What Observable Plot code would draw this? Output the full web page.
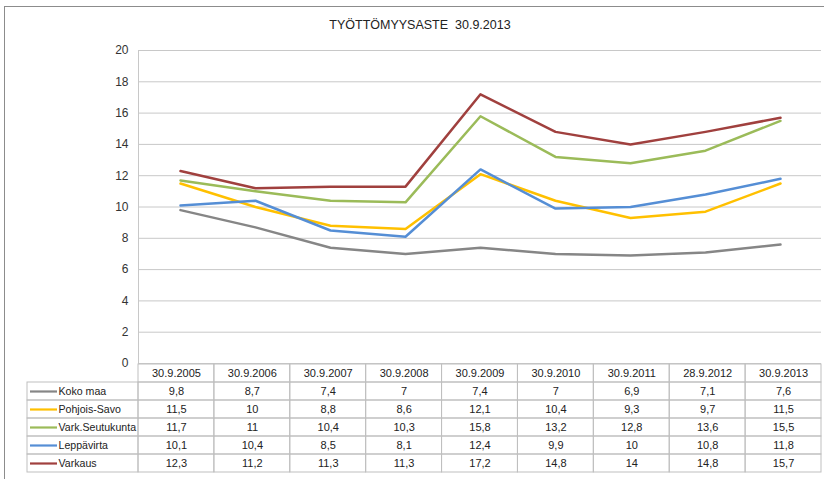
<!DOCTYPE html>
<html><head><meta charset="utf-8">
<script src="https://cdn.jsdelivr.net/npm/d3@7"></script>
<script src="https://cdn.jsdelivr.net/npm/@observablehq/plot@0.6"></script>
<style>
body{margin:0;background:#fff;}
#wrap{position:relative;width:824px;height:479px;overflow:hidden;font-family:"Liberation Sans",Arial,sans-serif;background:#fff;}
#frame{position:absolute;left:4px;top:6px;width:840px;height:500px;border:1px solid #8c8c8c;}
#title{position:absolute;left:0;width:840px;top:18px;text-align:center;font-size:12.5px;color:#222;white-space:pre;}
#chart{position:absolute;left:0;top:0;}
#table{position:absolute;left:0;top:363px;}
svg{overflow:visible;}
</style></head><body>
<div id="wrap"><div id="frame"></div><div id="title">TYÖTTÖMYYSASTE  30.9.2013</div><div id="chart"></div><div id="table"></div></div>
<script>
const dates = ["30.9.2005","30.9.2006","30.9.2007","30.9.2008","30.9.2009","30.9.2010","30.9.2011","28.9.2012","30.9.2013"];
const seriesNames = ["Koko maa","Pohjois-Savo","Vark.Seutukunta","Leppävirta","Varkaus"];
const kokoMaa = [9.8,8.7,7.4,7,7.4,7,6.9,7.1,7.6];
const pohjoisSavo = [11.5,10,8.8,8.6,12.1,10.4,9.3,9.7,11.5];
const varkSeutukunta = [11.7,11,10.4,10.3,15.8,13.2,12.8,13.6,15.5];
const leppavirta = [10.1,10.4,8.5,8.1,12.4,9.9,10,10.8,11.8];
const varkaus = [12.3,11.2,11.3,11.3,17.2,14.8,14,14.8,15.7];
const yTicks = [0,2,4,6,8,10,12,14,16,18,20];
const colors = ["#868686","#FFC000","#9BBB59","#558ED5","#A0403E"];

const seriesValues = [kokoMaa, pohjoisSavo, varkSeutukunta, leppavirta, varkaus];
const fmt = v => String(v).replace(".", ",");
const rows = [];
seriesNames.forEach((s, i) => seriesValues[i].forEach((v, j) => rows.push({series: s, date: dates[j], value: v})));

const W = 824, ML = 138, MR = 3;
const font = '"Liberation Sans", Arial, sans-serif';

const chart = Plot.plot({
  width: W, height: 380, marginTop: 50, marginBottom: 17, marginLeft: ML, marginRight: MR,
  style: {fontFamily: font, fontSize: "12px", color: "#333", background: "transparent", overflow: "visible"},
  x: {type: "point", domain: dates, padding: 0.5, axis: null},
  y: {domain: [0, 20], ticks: yTicks, tickSize: 0, tickPadding: 10, label: null, tickFormat: d => String(d)},
  color: {domain: seriesNames, range: colors},
  marks: [
    Plot.gridY(yTicks, {stroke: "#c8c8c8", strokeOpacity: 1}),
    Plot.frame({anchor: "left", stroke: "#c8c8c8"}),
    Plot.lineY(rows, {x: "date", y: "value", z: "series", stroke: "series", strokeWidth: 2.5})
  ]
});
document.getElementById("chart").append(chart);

// data table
const colW = (W - ML - MR) / dates.length;
const legendLeft = -111 / colW;
const cells = [];
dates.forEach((d, j) => cells.push({row: "header", x1: j, x2: j + 1, text: d}));
seriesNames.forEach((s, i) => {
  cells.push({row: s, x1: legendLeft, x2: 0, text: null});
  seriesValues[i].forEach((v, j) => cells.push({row: s, x1: j, x2: j + 1, text: fmt(v)}));
});
const table = Plot.plot({
  width: W, height: 116, marginTop: 0, marginBottom: 6, marginLeft: ML, marginRight: MR,
  style: {fontFamily: font, fontSize: "11px", color: "#222", background: "transparent", overflow: "visible"},
  x: {type: "linear", domain: [0, dates.length], axis: null},
  y: {type: "band", domain: ["header", ...seriesNames], padding: 0, axis: null},
  color: {domain: seriesNames, range: colors},
  marks: [
    Plot.barX(cells, {x1: "x1", x2: "x2", y: "row", fill: "none", stroke: "#bfbfbf"}),
    Plot.text(cells.filter(c => c.text !== null), {x: c => c.x1 + 0.5, y: "row", text: "text", fill: "#222", fontSize: 11}),
    Plot.ruleY(seriesNames, {y: d => d, x1: legendLeft + 3 / colW, x2: -81 / colW, stroke: d => d, strokeWidth: 2.2}),
    Plot.text(seriesNames, {y: d => d, x: -80 / colW, text: d => d, textAnchor: "start", fill: "#222", fontSize: 10.6})
  ]
});
document.getElementById("table").append(table);
</script>
</body></html>
